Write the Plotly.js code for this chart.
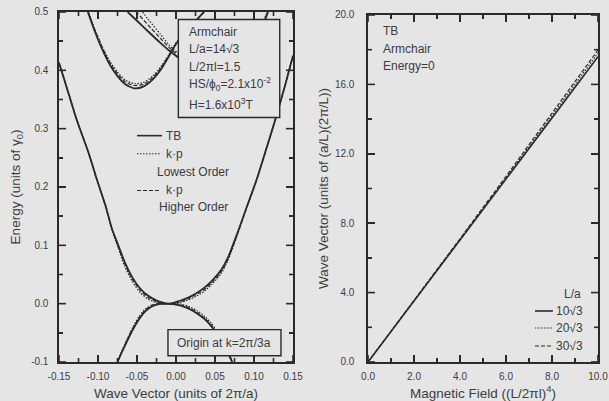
<!DOCTYPE html>
<html>
<head>
<meta charset="utf-8">
<script src="https://cdn.plot.ly/plotly-3.0.1.min.js"></script>
<style>
  html, body { margin: 0; padding: 0; background: #e5e5e6; }
  #chart { width: 609px; height: 401px; }
</style>
</head>
<body>
<div id="chart"></div>
<script>
// ---- Left panel: band structure near the K point (Energy vs wave vector) ----
// Lowest conduction-like band (U shape through the crossing point)
const kBandC = [-0.150, -0.140, -0.127, -0.113, -0.101, -0.090, -0.082, -0.074, -0.066, -0.056,
                -0.046, -0.036, -0.026, -0.018, -0.012, -0.005, 0.005, 0.015, 0.025, 0.036,
                0.046, 0.058, 0.067, 0.079, 0.090, 0.103, 0.115, 0.127, 0.140, 0.150];
const eBandC_TB = [0.413, 0.370, 0.314, 0.262, 0.211, 0.166, 0.128, 0.100, 0.072, 0.045,
                   0.026, 0.014, 0.006, 0.002, 0.000, 0.001, 0.005, 0.010, 0.017, 0.027,
                   0.039, 0.058, 0.080, 0.122, 0.163, 0.211, 0.262, 0.314, 0.375, 0.425];
const eBandC_LO = [0.413, 0.370, 0.314, 0.262, 0.211, 0.167, 0.126, 0.095, 0.065, 0.038,
                   0.019, 0.008, 0.002, 0.000, 0.000, 0.000, 0.002, 0.006, 0.012, 0.021,
                   0.033, 0.052, 0.075, 0.119, 0.162, 0.211, 0.262, 0.314, 0.375, 0.425];
const eBandC_HO = [0.413, 0.370, 0.314, 0.262, 0.211, 0.166, 0.127, 0.098, 0.069, 0.042,
                   0.023, 0.011, 0.004, 0.001, 0.000, 0.000, 0.003, 0.008, 0.015, 0.024,
                   0.036, 0.055, 0.078, 0.120, 0.162, 0.211, 0.262, 0.314, 0.375, 0.425];

// Highest valence-like band (inverted U through the crossing point)
const kBandV = [-0.075, -0.070, -0.063, -0.056, -0.048, -0.040, -0.031, -0.022, -0.012, -0.003,
                0.007, 0.017, 0.027, 0.037, 0.046, 0.054, 0.060, 0.066, 0.072];
const eBandV_TB = [-0.100, -0.085, -0.065, -0.046, -0.028, -0.014, -0.005, -0.001, 0.000, -0.001,
                   -0.004, -0.009, -0.017, -0.027, -0.040, -0.055, -0.068, -0.083, -0.100];
const eBandV_LO = [-0.100, -0.083, -0.062, -0.042, -0.023, -0.010, -0.002, 0.000, 0.000, 0.000,
                   -0.001, -0.005, -0.012, -0.022, -0.035, -0.050, -0.064, -0.080, -0.098];
const eBandV_HO = [-0.100, -0.084, -0.063, -0.044, -0.026, -0.012, -0.003, 0.000, 0.000, -0.001,
                   -0.003, -0.007, -0.015, -0.025, -0.038, -0.053, -0.066, -0.082, -0.099];

// Second subband (minimum left of the origin)
const kBand2 = [-0.113, -0.105, -0.095, -0.085, -0.075, -0.065, -0.053, -0.042, -0.030, -0.020,
                -0.010, 0.000, 0.010, 0.022, 0.036];
const eBand2_TB = [0.500, 0.470, 0.437, 0.410, 0.390, 0.376, 0.369, 0.372, 0.384, 0.400,
                   0.422, 0.445, 0.462, 0.480, 0.500];
const eBand2_LO = [0.503, 0.474, 0.442, 0.416, 0.397, 0.383, 0.377, 0.379, 0.390, 0.405,
                   0.425, 0.447, 0.463, 0.481, 0.501];
const eBand2_HO = [0.502, 0.472, 0.440, 0.413, 0.394, 0.380, 0.374, 0.376, 0.387, 0.403,
                   0.424, 0.446, 0.462, 0.480, 0.500];

// Third subband (coming down from the upper left)
const kBand3 = [-0.062, -0.050, -0.036, -0.020, -0.008, 0.005, 0.020, 0.040, 0.060, 0.080,
                0.100, 0.118];
const eBand3_TB = [0.500, 0.485, 0.467, 0.447, 0.433, 0.420, 0.408, 0.398, 0.396, 0.408,
                   0.440, 0.500];
const eBand3_LO = [0.532, 0.512, 0.488, 0.462, 0.442, 0.427, 0.414, 0.404, 0.401, 0.412,
                   0.445, 0.505];
const eBand3_HO = [0.516, 0.499, 0.478, 0.455, 0.438, 0.424, 0.411, 0.401, 0.399, 0.410,
                   0.442, 0.502];

const kTickVals = [-0.15, -0.10, -0.05, 0.00, 0.05, 0.10, 0.15];
const kTickText = ['-0.15', '-0.10', '-0.05', '0.00', '0.05', '0.10', '0.15'];
const eTickVals = [-0.1, 0.0, 0.1, 0.2, 0.3, 0.4, 0.5];
const eTickText = ['-0.1', '0.0', '0.1', '0.2', '0.3', '0.4', '0.5'];

// ---- Right panel: wave vector at Energy=0 vs magnetic field ----
const field = [0, 2, 4, 6, 8, 10];
const kField_10 = [0, 3.50, 7.02, 10.54, 14.06, 17.60];
const kField_20 = [0, 3.52, 7.06, 10.62, 14.20, 17.80];
const kField_30 = [0, 3.54, 7.10, 10.70, 14.34, 17.98];
const fieldTickVals = [0, 2, 4, 6, 8, 10];
const fieldTickText = ['0.0', '2.0', '4.0', '6.0', '8.0', '10.0'];
const waveTickVals = [0, 4, 8, 12, 16, 20];
const waveTickText = ['0.0', '4.0', '8.0', '12.0', '16.0', '20.0'];

const INK = '#2a2a2c';
const TXT = '#3c3c3e';
const BG = '#e5e5e6';
const FONT = 'Liberation Sans, Arial, Helvetica, sans-serif';
const DOT = '1.5px,1.5px';
const DASH = '4px,2px';
const W = 609, H = 401;

// panel geometry
const L = { xd: [0.0969, 0.4811], yd: [0.0973, 0.9701], xr: [-0.15, 0.15], yr: [-0.1, 0.5] };
const R = { xd: [0.6043, 0.9819], yd: [0.0973, 0.9626], xr: [0, 10], yr: [0, 20] };

function band(k, e, dash, width) {
  return { x: k, y: e, xaxis: 'x', yaxis: 'y', mode: 'lines', showlegend: false,
           line: { color: INK, width: width, dash: dash, shape: 'spline', smoothing: 0.6 },
           hoverinfo: 'skip' };
}
function fieldLine(b, k, dash, width) {
  return { x: b, y: k, xaxis: 'x2', yaxis: 'y2', mode: 'lines', showlegend: false,
           line: { color: INK, width: width, dash: dash }, hoverinfo: 'skip' };
}

// majors plus the minor tick half-way between each pair of majors
function withMinors(vals) {
  const out = [];
  vals.forEach((v, i) => {
    out.push({ v: v, len: 7 });
    if (i < vals.length - 1) out.push({ v: (v + vals[i + 1]) / 2, len: 4 });
  });
  return out;
}
// inward tick marks on all four sides of a panel, as one line trace
function frameTicks(p, xa, ya, xVals, yVals) {
  const xPerPx = (p.xr[1] - p.xr[0]) / ((p.xd[1] - p.xd[0]) * W);
  const yPerPx = (p.yr[1] - p.yr[0]) / ((p.yd[1] - p.yd[0]) * H);
  const xs = [], ys = [];
  withMinors(xVals).forEach(t => {
    xs.push(t.v, t.v, null, t.v, t.v, null);
    ys.push(p.yr[0], p.yr[0] + t.len * yPerPx, null, p.yr[1], p.yr[1] - t.len * yPerPx, null);
  });
  withMinors(yVals).forEach(t => {
    ys.push(t.v, t.v, null, t.v, t.v, null);
    xs.push(p.xr[0], p.xr[0] + t.len * xPerPx, null, p.xr[1], p.xr[1] - t.len * xPerPx, null);
  });
  return { x: xs, y: ys, xaxis: xa, yaxis: ya, mode: 'lines', showlegend: false,
           connectgaps: false, hoverinfo: 'skip', line: { color: INK, width: 1.6 } };
}

const traces = [
  band(kBandC, eBandC_LO, DOT, 1.2), band(kBandC, eBandC_HO, DASH, 1.2), band(kBandC, eBandC_TB, 'solid', 1.8),
  band(kBandV, eBandV_LO, DOT, 1.2), band(kBandV, eBandV_HO, DASH, 1.2), band(kBandV, eBandV_TB, 'solid', 1.8),
  band(kBand2, eBand2_LO, DOT, 1.2), band(kBand2, eBand2_HO, DASH, 1.2), band(kBand2, eBand2_TB, 'solid', 1.8),
  band(kBand3, eBand3_LO, DOT, 1.2), band(kBand3, eBand3_HO, DASH, 1.2), band(kBand3, eBand3_TB, 'solid', 1.8),
  fieldLine(field, kField_30, DASH, 1.2),
  fieldLine(field, kField_20, DOT, 1.2),
  fieldLine(field, kField_10, 'solid', 1.6),
  frameTicks(L, 'x', 'y', kTickVals, eTickVals),
  frameTicks(R, 'x2', 'y2', fieldTickVals, waveTickVals)
];

// axes: frame, labels and Plotly's own inside ticks at the same places as the tick trace
function mainAxis(extra, t0, dt) {
  return Object.assign({
    showgrid: false, zeroline: false, showline: true, linecolor: INK, linewidth: 1.6,
    mirror: 'allticks', ticks: 'inside', ticklen: 7, tickwidth: 1.6, tickcolor: INK,
    minor: { tickmode: 'linear', tick0: t0, dtick: dt, ticks: 'inside', ticklen: 4,
             tickwidth: 1.4, tickcolor: INK, showgrid: false },
    tickfont: { family: FONT, size: 10, color: TXT },
    tickmode: 'array', fixedrange: true
  }, extra);
}

const annFont = { family: FONT, size: 12, color: TXT };
function note(xref, yref, x, y, text, anchor) {
  return { xref: xref, yref: yref, x: x, y: y, text: text, showarrow: false,
           xanchor: anchor || 'left', yanchor: 'middle', font: annFont };
}
function seg(xref, yref, x0, x1, y, dash) {
  return { type: 'line', xref: xref, yref: yref, x0: x0, x1: x1, y0: y, y1: y,
           line: { color: INK, width: dash === 'solid' ? 1.6 : 1.2, dash: dash } };
}
const titleFont = { family: FONT, size: 13.5, color: TXT };

const layout = {
  width: W, height: H,
  margin: { l: 0, r: 0, t: 0, b: 0 },
  paper_bgcolor: BG, plot_bgcolor: BG,
  font: { family: FONT, color: TXT },
  xaxis: mainAxis({
    domain: L.xd, anchor: 'y', range: L.xr,
    tickvals: kTickVals, ticktext: kTickText, ticklabelstandoff: 4,
    title: { text: 'Wave Vector (units of 2π/a)', font: titleFont, standoff: 9 }
  }, -0.15, 0.025),
  yaxis: mainAxis({
    domain: L.yd, anchor: 'x', range: L.yr,
    tickvals: eTickVals, ticktext: eTickText, ticklabelstandoff: 7,
    title: { text: 'Energy (units of γ<sub>0</sub>)', font: titleFont, standoff: 7 }
  }, -0.1, 0.05),
  xaxis2: mainAxis({
    domain: R.xd, anchor: 'y2', range: R.xr,
    tickvals: fieldTickVals, ticktext: fieldTickText, ticklabelstandoff: 4,
    title: { text: 'Magnetic Field ((L/2πl)<sup>4</sup>)', font: titleFont, standoff: 9 }
  }, 0, 1),
  yaxis2: mainAxis({
    domain: R.yd, anchor: 'x2', range: R.yr,
    tickvals: waveTickVals, ticktext: waveTickText, ticklabelstandoff: 10,
    title: { text: 'Wave Vector (units of (a/L)(2π/L))', font: titleFont, standoff: 3 }
  }, 0, 2),
  shapes: [
    // parameter box
    { type: 'rect', xref: 'x', yref: 'y', x0: 0.003, x1: 0.133, y0: 0.319, y1: 0.487,
      fillcolor: BG, line: { color: INK, width: 1.4 }, layer: 'above' },
    // origin box
    { type: 'rect', xref: 'x', yref: 'y', x0: -0.0103, x1: 0.1346, y0: -0.0892, y1: -0.0446,
      fillcolor: BG, line: { color: INK, width: 1.4 }, layer: 'above' },
    // left legend samples
    seg('x', 'y', -0.050, -0.018, 0.288, 'solid'),
    seg('x', 'y', -0.050, -0.020, 0.257, DOT),
    seg('x', 'y', -0.050, -0.020, 0.194, DASH),
    // right legend samples
    seg('x2', 'y2', 7.26, 8.04, 2.94, 'solid'),
    seg('x2', 'y2', 7.26, 8.04, 1.96, DOT),
    seg('x2', 'y2', 7.26, 8.04, 0.92, DASH)
  ],
  annotations: [
    note('x', 'y', 0.0141, 0.465, 'Armchair'),
    note('x', 'y', 0.0141, 0.437, 'L/a=14√3'),
    note('x', 'y', 0.0141, 0.406, 'L/2πl=1.5'),
    note('x', 'y', 0.0141, 0.376, 'HS/ϕ<sub>0</sub>=2.1x10<sup>-2</sup>'),
    note('x', 'y', 0.0141, 0.343, 'H=1.6x10<sup>3</sup>T'),
    note('x', 'y', 0.0621, -0.067, 'Origin at k=2π/3a', 'center'),
    note('x', 'y', -0.015, 0.288, 'TB'),
    note('x', 'y', -0.016, 0.257, 'k·p'),
    note('x', 'y', 0.0218, 0.225, 'Lowest Order', 'center'),
    note('x', 'y', -0.016, 0.194, 'k·p'),
    note('x', 'y', 0.0218, 0.165, 'Higher Order', 'center'),
    note('x2', 'y2', 0.55, 19.08, 'TB'),
    note('x2', 'y2', 0.55, 18.04, 'Armchair'),
    note('x2', 'y2', 0.55, 17.06, 'Energy=0'),
    note('x2', 'y2', 8.9, 3.92, 'L/a', 'center'),
    note('x2', 'y2', 8.10, 2.94, '10√3'),
    note('x2', 'y2', 8.10, 1.96, '20√3'),
    note('x2', 'y2', 8.10, 0.92, '30√3')
  ]
};

Plotly.newPlot('chart', traces, layout, { staticPlot: true, displayModeBar: false });
</script>
</body>
</html>
